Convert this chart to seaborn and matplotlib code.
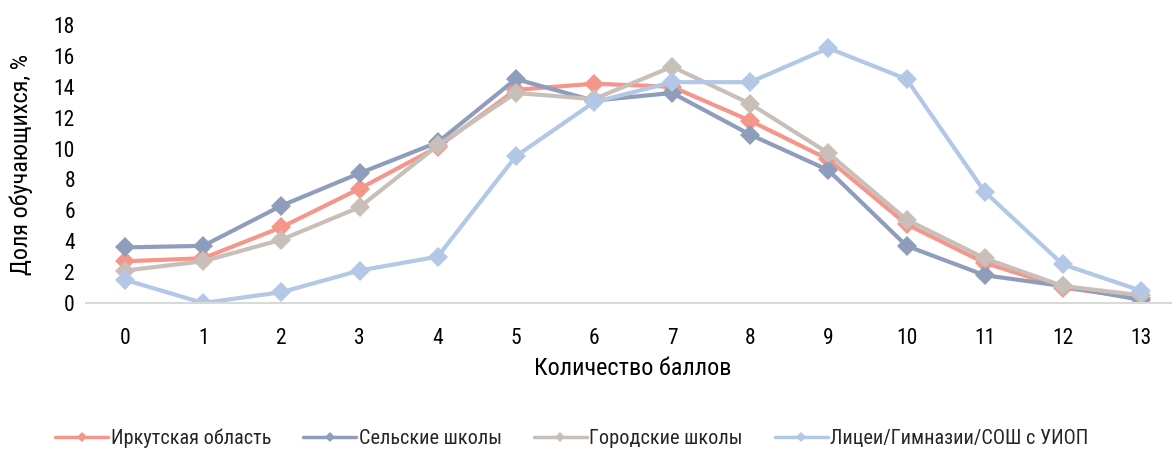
import matplotlib
matplotlib.use("Agg")
import matplotlib.pyplot as plt
import seaborn as sns
import pandas as pd

scores = list(range(14))
irkutsk = [2.7, 2.9, 4.9, 7.4, 10.1, 13.8, 14.2, 14.0, 11.8, 9.3, 5.1, 2.6, 1.0, 0.3]
rural = [3.6, 3.7, 6.3, 8.4, 10.4, 14.5, 13.1, 13.6, 10.9, 8.6, 3.7, 1.8, 1.1, 0.2]
urban = [2.1, 2.7, 4.1, 6.2, 10.2, 13.6, 13.2, 15.3, 12.9, 9.7, 5.4, 2.9, 1.1, 0.5]
lyceum = [1.5, 0.0, 0.7, 2.1, 3.0, 9.5, 13.0, 14.3, 14.3, 16.5, 14.5, 7.2, 2.5, 0.8]

series_names = ["Иркутская область", "Сельские школы", "Городские школы",
                "Лицеи/Гимназии/СОШ с УИОП"]
colors = ["#F4968A", "#8F9DBD", "#C9BFB9", "#B3C7E6"]

frames = []
for name, vals in zip(series_names, [irkutsk, rural, urban, lyceum]):
    frames.append(pd.DataFrame({"score": scores, "value": vals, "series": name}))
df = pd.concat(frames, ignore_index=True)

sns.set_theme(style="white")
plt.rcParams["font.family"] = ["Roboto Condensed", "Liberation Sans", "DejaVu Sans"]

fig = plt.figure(figsize=(11.72, 4.49), dpi=100)
W, H = 1172, 449
ax = fig.add_axes([86 / W, (H - 303) / H, (1180 - 86) / W, 278 / H])

sns.lineplot(data=df, x="score", y="value", hue="series", style="series",
             hue_order=series_names, style_order=series_names,
             palette=colors, markers=["D"] * 4, dashes=False,
             linewidth=3, markersize=10, markeredgewidth=0, ax=ax, legend=True)

ax.set_xlim(-0.5, 13.5)
ax.set_ylim(0, 18)
ax.set_xticks(scores)
ax.set_xticklabels([str(s) for s in scores])
ax.set_yticks(range(0, 19, 2))
ax.tick_params(axis="both", length=0, labelsize=15.5, colors="black")
ax.tick_params(axis="x", pad=18)
ax.tick_params(axis="y", pad=8)
for side in ["top", "right", "left"]:
    ax.spines[side].set_visible(False)
ax.spines["bottom"].set_color("#D9D9D9")
ax.spines["bottom"].set_linewidth(1.5)
ax.grid(False)

ax.set_xlabel("Количество баллов", fontsize=17.5, color="black", labelpad=6)
ax.set_ylabel("Доля обучающихся, %", fontsize=17.5, color="black")
ax.yaxis.set_label_coords(-53 / 1094, 0.5)

handles, labels = ax.get_legend_handles_labels()
leg = ax.legend(handles, labels, loc="center", bbox_to_anchor=(572 / W, (H - 438) / H),
                bbox_transform=fig.transFigure, ncol=4, frameon=False, fontsize=14.6,
                handlelength=2.6, handletextpad=0.12, columnspacing=1.6)
for line in leg.get_lines():
    line.set_linewidth(2.5)
    line.set_markersize(5)

fig.savefig("out.png", dpi=100)
